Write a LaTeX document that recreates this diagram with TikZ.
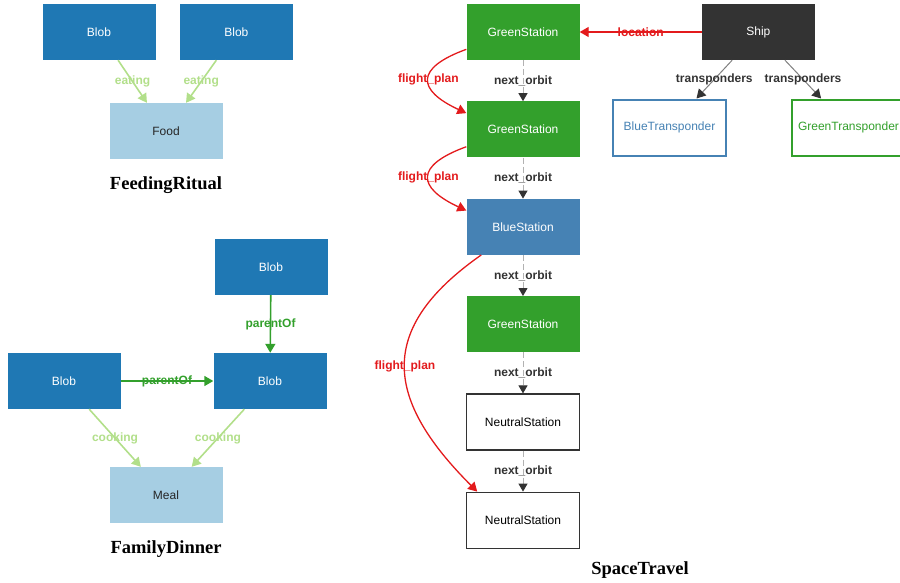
\documentclass[tikz,border=0pt]{standalone}
\usepackage{fontspec}
\setmainfont{Liberation Sans}
\newfontfamily\capfont{Liberation Serif}
\usepackage{xcolor}
\usepackage{tikz}
\usetikzlibrary{arrows.meta,positioning}

\definecolor{blobblue}{HTML}{1F78B4}
\definecolor{foodblue}{HTML}{A6CEE3}
\definecolor{lightgreen}{HTML}{B2DF8A}
\definecolor{darkgreen}{HTML}{33A02C}
\definecolor{steel}{HTML}{4682B4}
\definecolor{shipgray}{HTML}{333333}
\definecolor{planred}{HTML}{E31A1C}

\begin{document}
\begin{tikzpicture}[
    x=1pt, y=1pt,
    box/.style={rectangle, minimum width=113pt, minimum height=56pt, inner sep=0pt, font=\fontsize{12}{14}\selectfont},
    blob/.style={box, fill=blobblue, text=white},
    food/.style={box, fill=foodblue, text=black!85},
    greenst/.style={box, fill=darkgreen, text=white},
    bluest/.style={box, fill=steel, text=white},
    neutral/.style={box, fill=white, draw=shipgray, line width=1.2pt, text=black},
    trans/.style={box, fill=white, line width=2pt},
    lbl/.style={font=\bfseries\fontsize{12}{14}\selectfont},
    caption/.style={font=\capfont\bfseries\fontsize{18.5}{20}\selectfont},
    arr/.style={-{Triangle[length=9pt,width=10pt]}, line width=1.6pt},
    eat/.style={arr, draw=lightgreen},
    parent/.style={arr, draw=darkgreen},
    plan/.style={arr, draw=planred, line width=1.3pt},
    orbit/.style={draw=gray!60, line width=1pt, dash pattern=on 6pt off 3pt, -{Triangle[length=8pt,width=9pt,color=shipgray]}},
    tp/.style={draw=gray, line width=1pt, -{Triangle[length=9pt,width=10pt,color=shipgray]}},
]
\useasboundingbox (0,0) rectangle (900,-582);

% FeedingRitual
\node[blob] (blobA) at (99,-32) {Blob};
\node[blob, right=24pt of blobA] (blobB) {Blob};
\node[food] (food) at (166,-131) {Food};
\node[caption] (capFeed) at (166,-185) {FeedingRitual};

\draw[eat] (blobA) -- node[lbl, text=lightgreen]{eating} (food);
\draw[eat] (blobB) -- node[lbl, text=lightgreen]{eating} (food);

% FamilyDinner
\node[blob] (blobTop) at (271,-267) {Blob};
\node[blob] (blobLeft) at (64,-381) {Blob};
\node[blob] (blobRight) at (270,-381) {Blob};
\node[food] (meal) at (166,-495) {Meal};
\node[caption] (capFamily) at (166,-549) {FamilyDinner};

\draw[parent] (blobTop) -- node[lbl, text=darkgreen]{parentOf} (blobRight);
\draw[parent] (blobLeft) -- node[lbl, text=darkgreen]{parentOf} (blobRight);
\draw[eat] (blobLeft) -- node[lbl, text=lightgreen]{cooking} (meal);
\draw[eat] (blobRight) -- node[lbl, text=lightgreen]{cooking} (meal);

% SpaceTravel: station column
\node[greenst] (gs1) at (523,-32) {GreenStation};
\node[greenst, below=41pt of gs1] (gs2) {GreenStation};
\node[bluest, below=41pt of gs2] (bs) {BlueStation};
\node[greenst, below=41pt of bs] (gs3) {GreenStation};
\node[neutral, below=41pt of gs3] (ns1) {NeutralStation};
\node[neutral, below=41pt of ns1] (ns2) {NeutralStation};

% ship and transponders
\node[box, fill=shipgray, text=white, right=122pt of gs1] (ship) {Ship};
\node[trans, draw=steel, text=steel] (blueTr) at (669.5,-127.5) {BlueTransponder};
\node[trans, draw=darkgreen, text=darkgreen] (greenTr) at (848.5,-127.5) {GreenTransponder};
\node[caption] (capSpace) at (640,-570) {SpaceTravel};

% next_orbit
\draw[orbit] (gs1) -- node[lbl, text=shipgray]{next\_orbit} (gs2);
\draw[orbit] (gs2) -- node[lbl, text=shipgray]{next\_orbit} (bs);
\draw[orbit] (bs) -- node[lbl, text=shipgray]{next\_orbit} (gs3);
\draw[orbit] (gs3) -- node[lbl, text=shipgray]{next\_orbit} (ns1);
\draw[orbit] (ns1) -- node[lbl, text=shipgray]{next\_orbit} (ns2);

% flight plans
\draw[plan] (gs1.197) to[out=200, in=155, looseness=2.2] node[lbl, text=planred]{flight\_plan} (gs2.164);
\draw[plan] (gs2.197) to[out=200, in=155, looseness=2.2] node[lbl, text=planred]{flight\_plan} (bs.164);
\draw[plan] (bs.214) to[out=215, in=135, looseness=1.4] node[lbl, text=planred]{flight\_plan} (ns2.148);

% ship edges
\draw[plan] (ship) -- node[lbl, text=planred]{location} (gs1);
\draw[tp] (ship) -- node[lbl, text=shipgray]{transponders} (blueTr);
\draw[tp] (ship) -- node[lbl, text=shipgray]{transponders} (greenTr);
\end{tikzpicture}
\end{document}
